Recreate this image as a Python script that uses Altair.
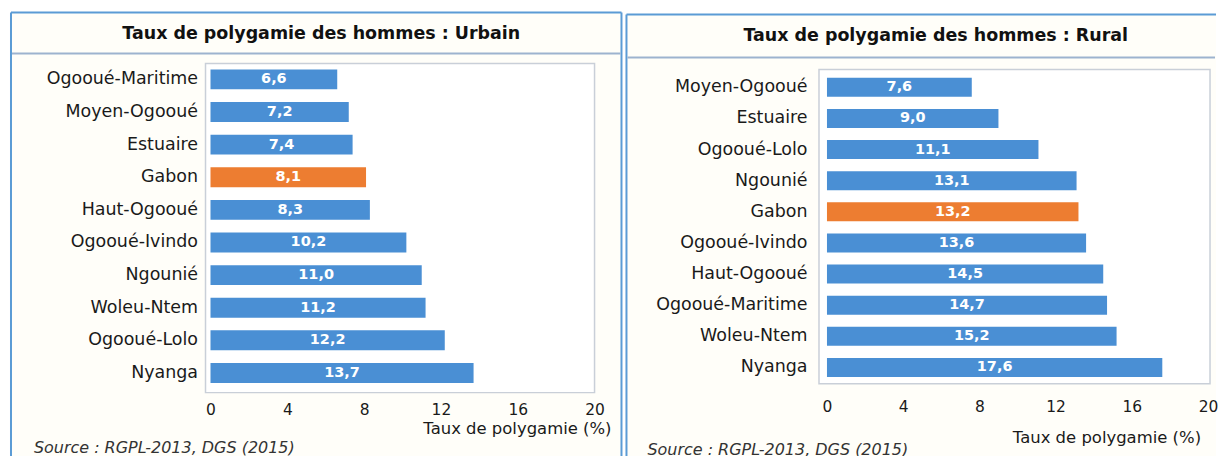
import altair as alt
import pandas as pd

# ---- data ----
urban_regions = ["Ogooué-Maritime", "Moyen-Ogooué", "Estuaire", "Gabon", "Haut-Ogooué",
                 "Ogooué-Ivindo", "Ngounié", "Woleu-Ntem", "Ogooué-Lolo", "Nyanga"]
urban_values = [6.6, 7.2, 7.4, 8.1, 8.3, 10.2, 11.0, 11.2, 12.2, 13.7]

rural_regions = ["Moyen-Ogooué", "Estuaire", "Ogooué-Lolo", "Ngounié", "Gabon",
                 "Ogooué-Ivindo", "Haut-Ogooué", "Ogooué-Maritime", "Woleu-Ntem", "Nyanga"]
rural_values = [7.6, 9.0, 11.1, 13.1, 13.2, 13.6, 14.5, 14.7, 15.2, 17.6]

x_ticks = [0, 4, 8, 12, 16, 20]
title_urban = "Taux de polygamie  des hommes : Urbain"
title_rural = "Taux de polygamie  des hommes : Rural"
axis_title = "Taux  de polygamie (%)"
source_text = "Source : RGPL-2013, DGS (2015)"

FONT = "DejaVu Sans"
BLUE = "#4A8FD4"
ORANGE = "#ED7D31"
BORDER = "#5B9BD5"
HEADER_LINE = "#9DB3CF"
FRAME = "#C9CFD8"
PANEL_BG = "#FFFEF9"

one = pd.DataFrame({"k": [0]})


def panel(regions, values, title, W, H, geo):
    df = pd.DataFrame({"region": regions, "value": values})
    base = alt.Chart(df).transform_calculate(
        mid="datum.value / 2",
        label="replace(format(datum.value, '.1f'), '.', ',')",
    )
    y = alt.Y(
        "region:N",
        sort=regions,
        scale=alt.Scale(paddingInner=0.39, paddingOuter=geo["po"], align=geo["align"]),
        axis=alt.Axis(title=None, ticks=False, domain=False, labelPadding=geo["lp"],
                      labelFont=FONT, labelFontSize=17.5, labelColor="#1a1a1a", zindex=2),
    )
    xscale = alt.Scale(domain=[0, 20], nice=False)
    bars = base.mark_bar(cornerRadius=0).encode(
        x=alt.X("value:Q", scale=xscale,
                axis=alt.Axis(values=x_ticks, ticks=False, tickSize=0, domain=False, grid=False,
                              title=None, labelPadding=geo["xlp"], labelFont=FONT,
                              labelFlush=False, labelOverlap=False,
                              labelFontSize=15.5, labelColor="#1a1a1a", zindex=2)),
        y=y,
        color=alt.condition(alt.datum.region == "Gabon", alt.value(ORANGE), alt.value(BLUE)),
    )
    labels = base.mark_text(font=FONT, fontSize=14.5, fontWeight="bold", color="white",
                            baseline="middle", align="center").encode(
        x=alt.X("mid:Q", scale=xscale),
        y=alt.Y("region:N", sort=regions),
        text="label:N",
    )
    bx0, bx1, by0, by1 = geo["border"]
    layers = []
    layers.append(alt.Chart(one).mark_rect(fill=PANEL_BG, strokeWidth=0).encode(
        x=alt.value(bx0), x2=alt.value(bx1), y=alt.value(by0), y2=alt.value(by1)))
    # visible panel edges (top, left and optionally right)
    layers.append(alt.Chart(one).mark_rule(color=BORDER, strokeWidth=2).encode(
        x=alt.value(bx0), x2=alt.value(bx1), y=alt.value(by0)))
    layers.append(alt.Chart(one).mark_rule(color=BORDER, strokeWidth=2).encode(
        x=alt.value(bx0), y=alt.value(by0), y2=alt.value(by1)))
    if geo["right_edge"]:
        layers.append(alt.Chart(one).mark_rule(color=BORDER, strokeWidth=2).encode(
            x=alt.value(bx1), y=alt.value(by0), y2=alt.value(by1)))
    layers.append(alt.Chart(one).mark_rule(color=HEADER_LINE, strokeWidth=2).encode(
        x=alt.value(bx0 + 1), x2=alt.value(bx1 - 1), y=alt.value(geo["hy"])))
    fx0, fx1, fy0, fy1 = geo["frame"]
    layers.append(alt.Chart(one).mark_rect(fill="white", stroke=FRAME, strokeWidth=1.5).encode(
        x=alt.value(fx0), x2=alt.value(fx1), y=alt.value(fy0), y2=alt.value(fy1)))
    layers += [bars, labels]
    layers.append(alt.Chart(one).mark_text(font=FONT, fontSize=17.5, fontWeight="bold",
                                           color="#111", align="center",
                                           baseline="middle").encode(
        x=alt.value(geo["tx"]), y=alt.value(geo["ty"]), text=alt.value(title)))
    layers.append(alt.Chart(one).mark_text(font=FONT, fontSize=16.5, color="#1a1a1a",
                                           align="right", baseline="middle").encode(
        x=alt.value(geo["ax"]), y=alt.value(geo["ay"]), text=alt.value(axis_title)))
    layers.append(alt.Chart(one).mark_text(font=FONT, fontSize=16, fontStyle="italic",
                                           color="#333", align="left",
                                           baseline="middle").encode(
        x=alt.value(geo["sx"]), y=alt.value(geo["sy"]), text=alt.value(source_text)))
    return alt.layer(*layers).properties(width=W, height=H)


H = 327
left = panel(urban_regions, urban_values, title_urban, 385, H, dict(
    po=0.195, align=0.47, lp=13, xlp=13, right_edge=True,
    border=(-200, 412, -51, 408), hy=-10, frame=(-5, 385, 0, 330),
    tx=111, ty=-30, ax=402, ay=366, sx=-177, sy=386))
right = panel(rural_regions, rural_values, title_rural, 382, H, dict(
    po=0.435, align=0.53, lp=20, xlp=10, right_edge=False,
    border=(-201, 390, -49, 408), hy=-6, frame=(-8, 384, 6, 321),
    tx=109, ty=-27, ax=375, ay=376, sx=-180, sy=388))

chart = alt.hconcat(left, right, spacing=233, bounds="flush").properties(
    padding={"left": 1, "top": 2, "right": 0, "bottom": 0}
).configure_view(stroke=None).configure(background="white")

chart.save("out.html", embed_options={"renderer": "svg", "actions": False})
